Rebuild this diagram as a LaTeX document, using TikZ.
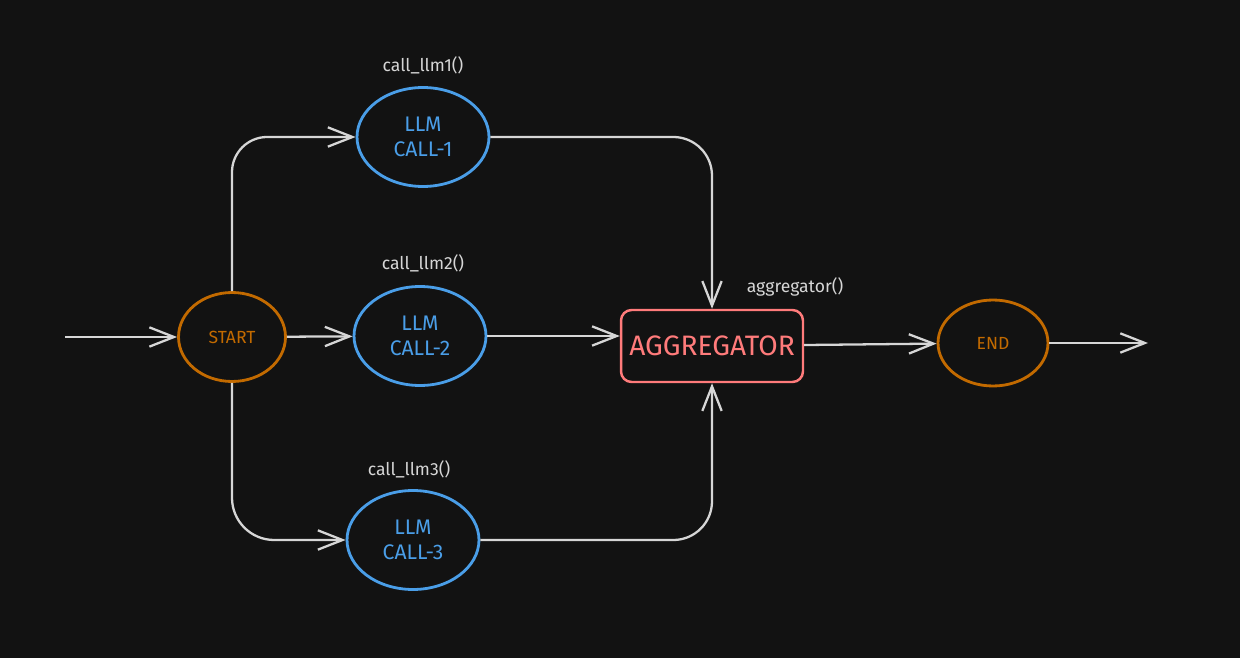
\documentclass[tikz,border=0pt]{standalone}
\usepackage{fontspec}
\setmainfont{Fira Sans}
\usepackage{xcolor}
\usetikzlibrary{arrows.meta,shapes.geometric}
\definecolor{bg}{HTML}{121212}
\definecolor{ink}{HTML}{D6D6D6}
\definecolor{org}{HTML}{C26A00}
\definecolor{llmblue}{HTML}{4A9EE8}
\definecolor{aggred}{HTML}{FF7B7B}
\tikzset{term/.style={ellipse,draw=org,line width=1.6pt,text=org,minimum width=2.14cm,minimum height=1.78cm,font=\normalsize},
 llm/.style={ellipse,draw=llmblue,line width=1.6pt,text=llmblue,minimum width=2.64cm,minimum height=1.98cm,align=center,font=\large},
 agg/.style={draw=aggred,line width=1.4pt,text=aggred,rounded corners=6pt,minimum width=3.64cm,minimum height=1.44cm,font=\fontsize{16}{19}\selectfont},
 fn/.style={text=ink,font=\normalsize},
 flow/.style={draw=ink,line width=1.3pt,-{Straight Barb[length=14pt,width=11pt]}}}

\begin{document}
\begin{tikzpicture}[x=0.02cm,y=-0.02cm]
\fill[bg](0,0)rectangle(1240,658);
\useasboundingbox(0,0)rectangle(1240,658);
\node[term](start) at (232,337){START};
\node[llm](llm1) at (423,137){LLM\\CALL-1};
\node[llm](llm2) at (420,336){LLM\\CALL-2};
\node[llm](llm3) at (413,540){LLM\\CALL-3};
\node[agg](aggr) at (712,346){AGGREGATOR};
\node[term,minimum width=2.2cm,minimum height=1.72cm](fin) at (993,343){END};
\node[fn](f1) at (423,65){call\_llm1()};
\node[fn](f2) at (423,263){call\_llm2()};
\node[fn](f3) at (409,469){call\_llm3()};
\node[fn](f4) at (795,287){aggregator()};
\coordinate(in) at (65,337);\coordinate(out) at (1148,343);
\draw[flow](in)--(start);
\draw[flow](start)--(llm2);
\draw[flow,rounded corners=20pt](start.north)|-(llm1.west);
\draw[flow,rounded corners=24pt](start.south)|-(llm3.west);
\draw[flow,rounded corners=22pt](llm1.east)-|(aggr.north);
\draw[flow](llm2.east)--(aggr.west|-llm2.east);
\draw[flow,rounded corners=22pt](llm3.east)-|(aggr.south);
\draw[flow](aggr)--(fin);
\draw[flow](fin)--(out);
\end{tikzpicture}
\end{document}
